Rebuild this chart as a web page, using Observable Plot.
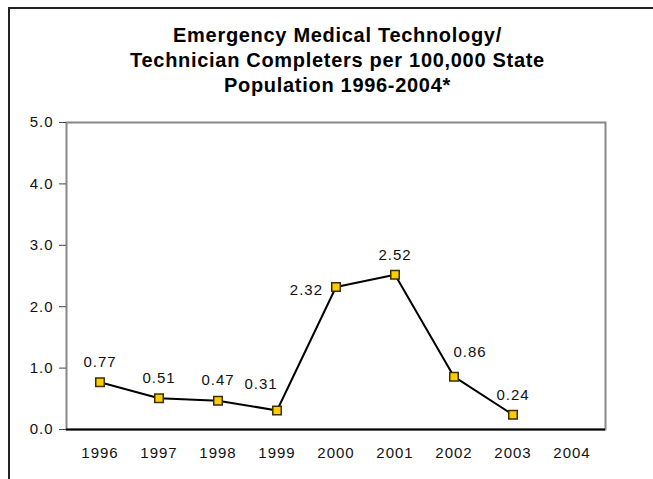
<!DOCTYPE html>
<html>
<head>
<meta charset="utf-8">
<script src="https://cdn.jsdelivr.net/npm/d3@7"></script>
<script src="https://cdn.jsdelivr.net/npm/@observablehq/plot@0.6"></script>
<style>
  html, body { margin: 0; padding: 0; background: #fff; }
  #wrap { position: relative; width: 653px; height: 479px; overflow: hidden; font-family: "Liberation Sans", Arial, sans-serif; }
  #border { position: absolute; left: 8px; top: 7px; width: 700px; height: 500px; border-left: 2px solid #222; border-top: 2px solid #222; }
  #title { position: absolute; left: 0; top: 23px; width: 675px; text-align: center; font-weight: bold; font-size: 20px; letter-spacing: 0.7px; line-height: 25px; color: #000; }
  #chart { position: absolute; left: 0; top: 110px; }
  #chart text { letter-spacing: 1px; }
</style>
</head>
<body>
<div id="wrap">
  <div id="border"></div>
  <div id="title">Emergency Medical Technology/<br>Technician Completers per 100,000 State<br>Population 1996-2004*</div>
  <div id="chart"></div>
</div>
<script>
const years = ["1996","1997","1998","1999","2000","2001","2002","2003","2004"];
const values = [0.77, 0.51, 0.47, 0.31, 2.32, 2.52, 0.86, 0.24, null];
const yTicks = [0, 1, 2, 3, 4, 5];

const data = years.map((year, i) => ({year, value: values[i]})).filter(d => d.value != null);

// label placement (style, kept in code)
const leftLabels = new Set(["2000"]);
const aboveLeft = new Set(["1999"]);
const aboveRight = new Set(["2002"]);
const above = data.filter(d => !leftLabels.has(d.year) && !aboveLeft.has(d.year) && !aboveRight.has(d.year));

const fmt = d3.format(".2f");
const font = {fontSize: 15, fill: "#111"};

const plot = Plot.plot({
  width: 653,
  height: 369,
  marginLeft: 66,
  marginRight: 48,
  marginTop: 12,
  marginBottom: 50,
  style: {fontFamily: "'Liberation Sans', Arial, sans-serif", fontSize: "15px", background: "transparent", color: "#111"},
  x: {type: "band", domain: years, padding: 0, label: null},
  y: {domain: [0, 5], label: null},
  marks: [
    Plot.frame({stroke: "#888", strokeWidth: 2}),
    Plot.axisY({ticks: yTicks, tickFormat: d3.format(".1f"), tickSize: 7, tickPadding: 6, fontSize: 15, stroke: "#444"}),
    Plot.axisX({tickSize: 0, tickPadding: 18, fontSize: 15}),
    Plot.ruleY([0], {stroke: "#000", strokeWidth: 2}),
    Plot.line(data, {x: "year", y: "value", stroke: "#000", strokeWidth: 2}),
    Plot.dot(data, {x: "year", y: "value", symbol: "square", r: 4.8, fill: "#FFCC00", stroke: "#3a3000", strokeWidth: 1.5}),
    Plot.text(above, {x: "year", y: "value", text: d => fmt(d.value), dy: -20, ...font}),
    Plot.text(data.filter(d => leftLabels.has(d.year)), {x: "year", y: "value", text: d => fmt(d.value), dx: -13, dy: 3, textAnchor: "end", ...font}),
    Plot.text(data.filter(d => aboveLeft.has(d.year)), {x: "year", y: "value", text: d => fmt(d.value), dx: -16, dy: -26, ...font}),
    Plot.text(data.filter(d => aboveRight.has(d.year)), {x: "year", y: "value", text: d => fmt(d.value), dx: 16, dy: -25, ...font})
  ]
});
document.getElementById("chart").appendChild(plot);
</script>
</body>
</html>
